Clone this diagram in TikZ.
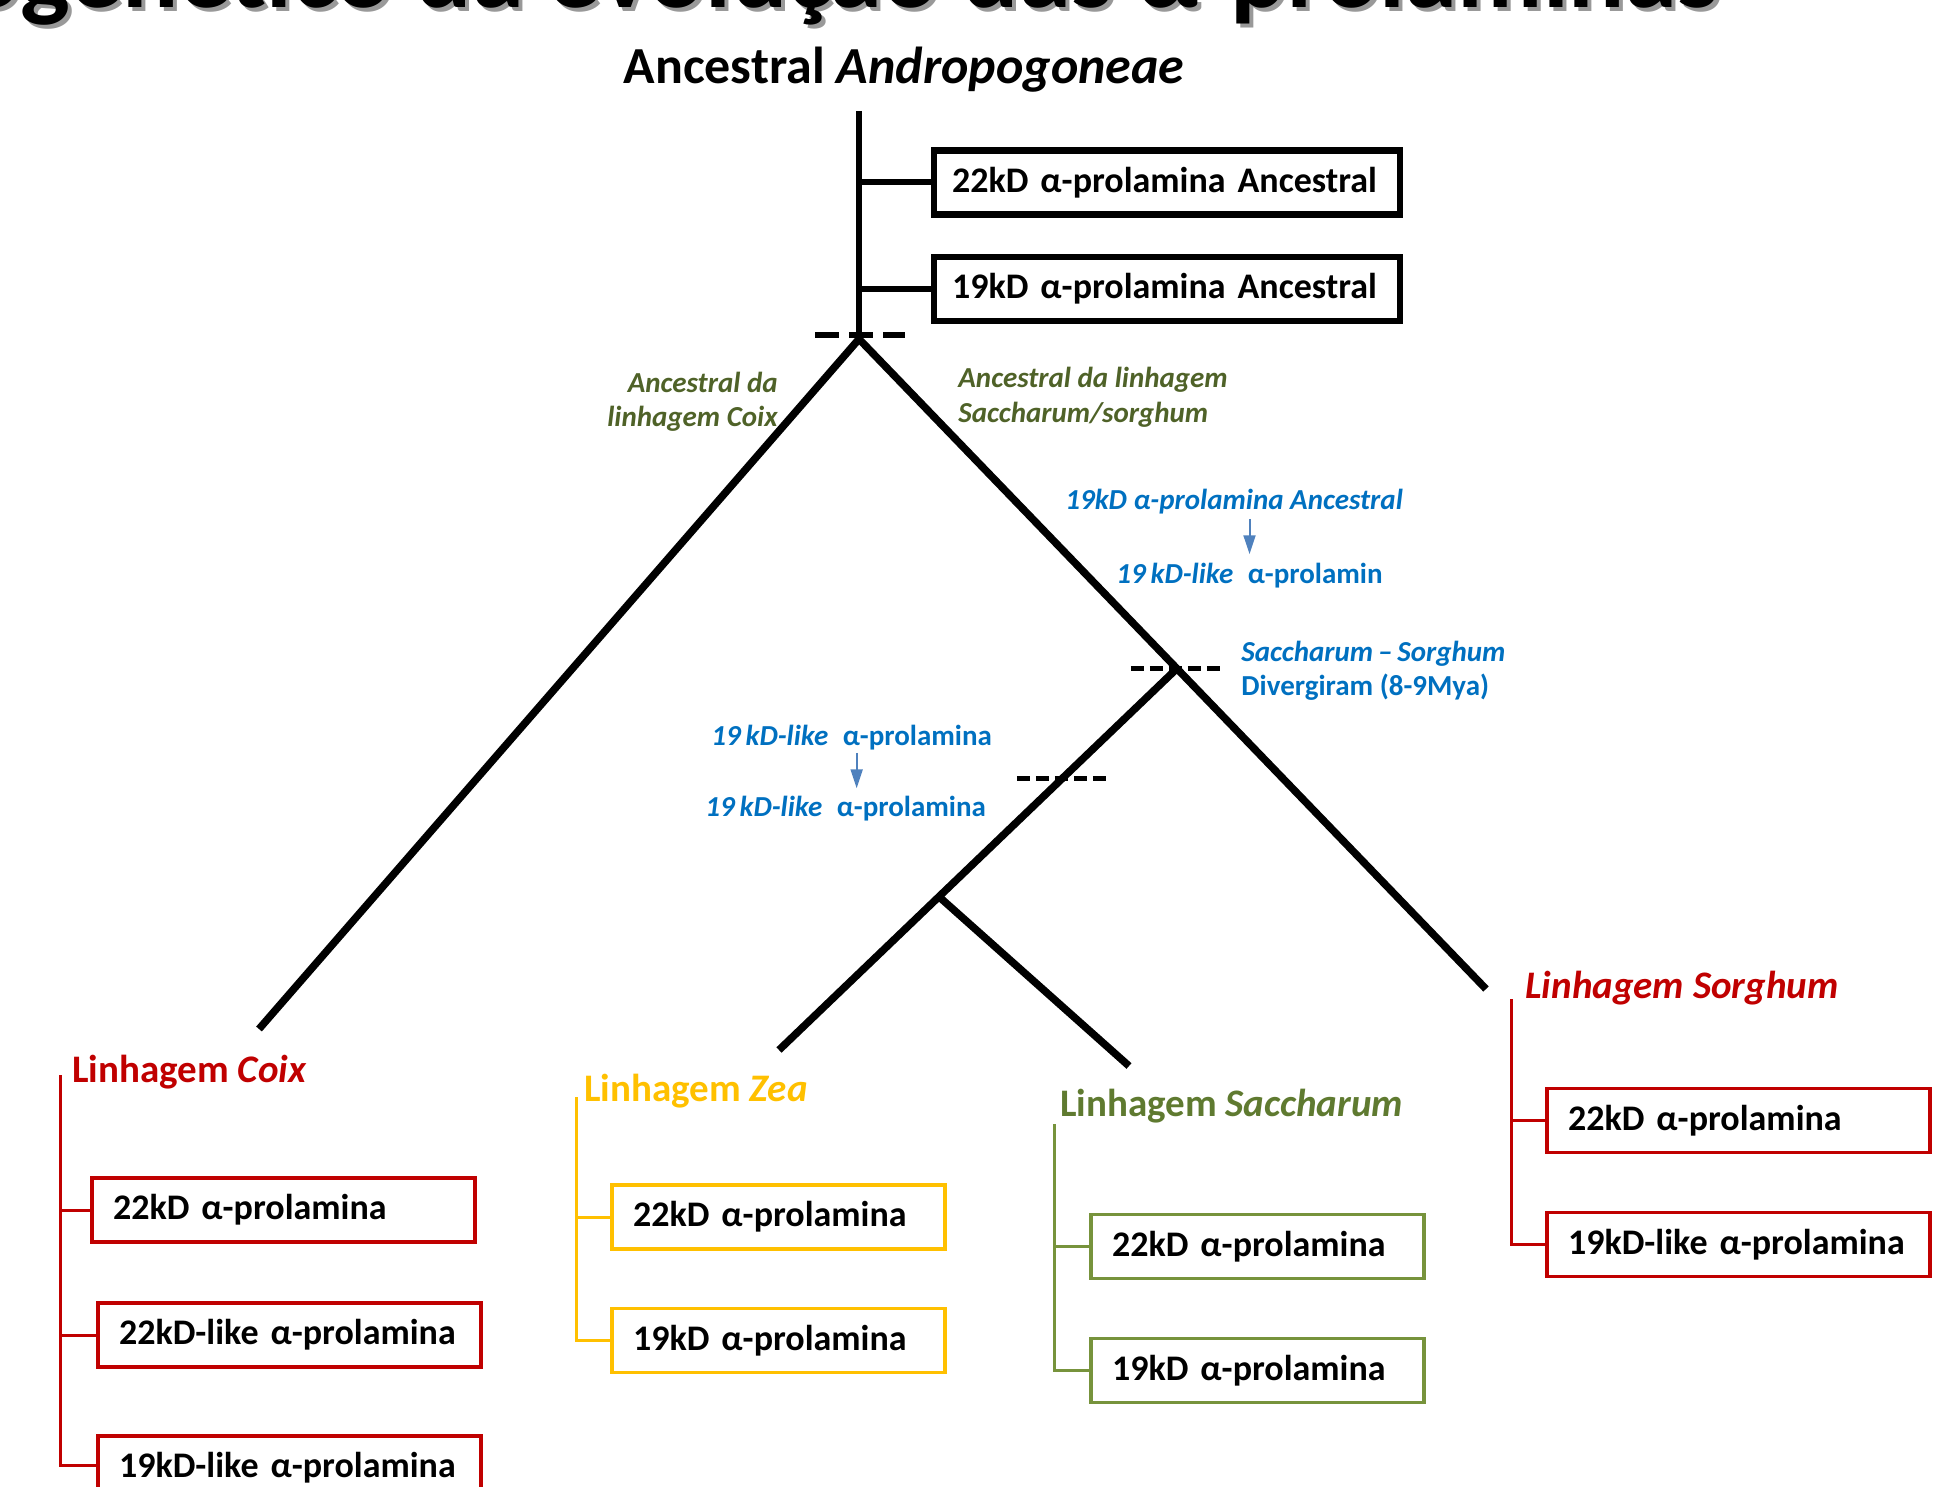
\documentclass[tikz,border=0pt]{standalone}
\usepackage{fontspec}
\setmainfont{Carlito}
\usepackage{tikz}
\usepackage{xcolor}
\usetikzlibrary{calc}
\usetikzlibrary{positioning}
\usetikzlibrary{arrows.meta}
\definecolor{linred}{HTML}{C00000}
\definecolor{linyellow}{HTML}{FFC000}
\definecolor{linolive}{HTML}{77933C}
\definecolor{labolive}{HTML}{5F7A30}
\definecolor{darkolive}{HTML}{4F6228}
\definecolor{noteblue}{HTML}{0070C0}
\definecolor{arrowblue}{HTML}{4F81BD}

\begin{document}
\begin{tikzpicture}[x=1pt, y=-1pt, thick,
	tree line/.style={draw=black, line width=7.5pt},
	stem line/.style={draw=black, line width=6pt},
	cut line/.style={draw=black, line width=5pt, dash pattern=on 13pt off 6pt},
	anc box/.style={draw=black, line width=6.5pt, inner xsep=18pt, inner ysep=0pt, minimum height=64pt, text width=430pt, align=left, font=\fontsize{36}{43}\selectfont\bfseries},
	lin box/.style={draw=#1, line width=3.3pt, inner xsep=21pt, inner ysep=0pt, minimum height=64pt, align=left, font=\fontsize{36}{43}\selectfont\bfseries},
	wide box/.style={lin box=#1, text width=341pt},
	narrow box/.style={lin box=#1, text width=291pt},
	lin label/.style={text=#1, anchor=base west, inner sep=0pt, font=\fontsize{39}{47}\selectfont\bfseries},
	bracket/.style={draw=#1, line width=3pt},
	note/.style={text=noteblue, anchor=base west, inner sep=0pt, align=left, font=\fontsize{29}{34}\selectfont\bfseries},
	green note/.style={text=darkolive, inner sep=0pt, font=\fontsize{29}{34.5}\selectfont\bfseries\itshape},
	note arrow/.style={draw=arrowblue, line width=2pt, -{Triangle[width=12pt,length=19pt]}}]

  \useasboundingbox (0,0) rectangle (1933,1487);

  % title, cut off by the page edge
  \begin{scope}
    \clip (0,0) rectangle (1933,1487);
    \node[anchor=base east, inner sep=0pt, text=black!40, font=\fontsize{105}{126}\selectfont\bfseries] at (1723,12) {filogenético da evolução das α-prolaminas};
    \node[anchor=base east, inner sep=0pt, font=\fontsize{105}{126}\selectfont\bfseries] (title) at (1719,8) {filogenético da evolução das α-prolaminas};
  \end{scope}

  \node[anchor=base, inner sep=0pt, font=\fontsize{52}{62}\selectfont\bfseries] (andro) at (904,84) {Ancestral \textit{Andropogoneae}};

  % tree
  \coordinate (top) at (859,111);
  \coordinate (fork) at (859,339);
  \coordinate (coixEnd) at (259,1029);
  \coordinate (sorEnd) at (1486,989);
  \coordinate (ssFork) at ($(fork)!0.507!(sorEnd)$);
  \coordinate (zeaEnd) at (779,1050);
  \coordinate (zsFork) at ($(ssFork)!0.598!(zeaEnd)$);
  \coordinate (sacEnd) at (1129,1066);
  \coordinate (zeaCut) at ($(ssFork)!0.289!(zeaEnd)$);

  \node[anc box] (anc22) at (1167,182.5) {22kD α-prolamina Ancestral};
  \node[anc box] (anc19) [below=36pt of anc22] {19kD α-prolamina Ancestral};

  \path[stem line] (top) edge [] (fork);
  \path[stem line] (top |- anc22.west) edge [] (anc22.west);
  \path[stem line] (top |- anc19.west) edge [] (anc19.west);
  \draw[tree line] (coixEnd) -- (fork) -- (sorEnd);
  \draw[tree line] (ssFork) -- (zeaEnd);
  \draw[tree line] (zsFork) -- (sacEnd);

  \draw[cut line, line width=6pt, dash pattern=on 24pt off 10pt] ($(fork)+(-44,-4)$) -- ($(fork)+(46,-4)$);
  \draw[cut line] ($(ssFork)+(-46,0)$) -- ($(ssFork)+(46,0)$);
  \draw[cut line] ($(zeaCut)+(-45,0)$) -- ($(zeaCut)+(45,0)$);

  % notes along the branches
  \node[green note, align=right, anchor=base east] (coixNote) at (778,427) {Ancestral da\\linhagem Coix};
  \node[green note, align=left, anchor=base west] (ssNote) at (958,422) {Ancestral da linhagem\\Saccharum/sorghum};

  \node[note] (anc19Note) at (1065,509) {\textit{19kD α-prolamina Ancestral}};
  \node[note] (like19Note) at (1116,583) {\textit{19\,kD-like}\enspace α-prolamin};
  \node[note] (divNote) at (1241,695) {\textit{Saccharum\,–\,Sorghum}\\Divergiram (8-9Mya)};
  \node[note] (zeaNoteA) at (711,745) {\textit{19\,kD-like}\enspace α-prolamina};
  \node[note] (zeaNoteB) at (705,816) {\textit{19\,kD-like}\enspace α-prolamina};

  \draw[note arrow, shorten <=5pt, shorten >=8pt] (like19Note.north |- anc19Note.south) -- (like19Note.north);
  \draw[note arrow, shorten <=3pt, shorten >=7pt] ([xshift=5pt]zeaNoteA.south) -- ([xshift=5pt]zeaNoteA.south |- zeaNoteB.north);

  % Coix
  \node[lin label=linred] (coixLab) at (72,1082) {Linhagem \textit{Coix}};
  \node[wide box=linred] (coix22) at (283.5,1210) {22kD α-prolamina};
  \node[wide box=linred] (coix22like) at (289.5,1335) {22kD-like α-prolamina};
  \node[wide box=linred] (coix19like) at (289.5,1468) {19kD-like α-prolamina};
  \coordinate (coixTop) at (60,1075);
  \draw[bracket=linred] (coixTop) |- ([yshift=3pt]coix19like.west);
  \draw[bracket=linred] (coixTop |- coix22.west) -- (coix22.west);
  \draw[bracket=linred] (coixTop |- coix22like.west) -- (coix22like.west);

  % Zea
  \node[lin label=linyellow] (zeaLab) at (584,1101) {Linhagem \textit{Zea}};
  \node[narrow box=linyellow] (zea22) at (778.5,1217) {22kD α-prolamina};
  \node[narrow box=linyellow] (zea19) [below=56pt of zea22] {19kD α-prolamina};
  \coordinate (zeaTop) at (576,1097);
  \draw[bracket=linyellow] (zeaTop) |- (zea19.west);
  \draw[bracket=linyellow] (zeaTop |- zea22.west) -- (zea22.west);

  % Saccharum
  \node[lin label=labolive] (sacLab) at (1060,1116) {Linhagem \textit{Saccharum}};
  \node[narrow box=linolive] (sac22) at (1257.5,1246.5) {22kD α-prolamina};
  \node[narrow box=linolive] (sac19) [below=57pt of sac22] {19kD α-prolamina};
  \coordinate (sacTop) at (1054,1124);
  \draw[bracket=linolive] (sacTop) |- (sac19.west);
  \draw[bracket=linolive] (sacTop |- sac22.west) -- (sac22.west);

  % Sorghum
  \node[lin label=linred] (sorLab) at (1525,998) {\textit{Linhagem Sorghum}};
  \node[wide box=linred] (sor22) at (1738.5,1120.5) {22kD α-prolamina};
  \node[wide box=linred] (sor19like) [below=57pt of sor22] {19kD-like α-prolamina};
  \coordinate (sorTop) at (1511,999);
  \draw[bracket=linred] (sorTop) |- (sor19like.west);
  \draw[bracket=linred] (sorTop |- sor22.west) -- (sor22.west);
\end{tikzpicture}
\end{document}
